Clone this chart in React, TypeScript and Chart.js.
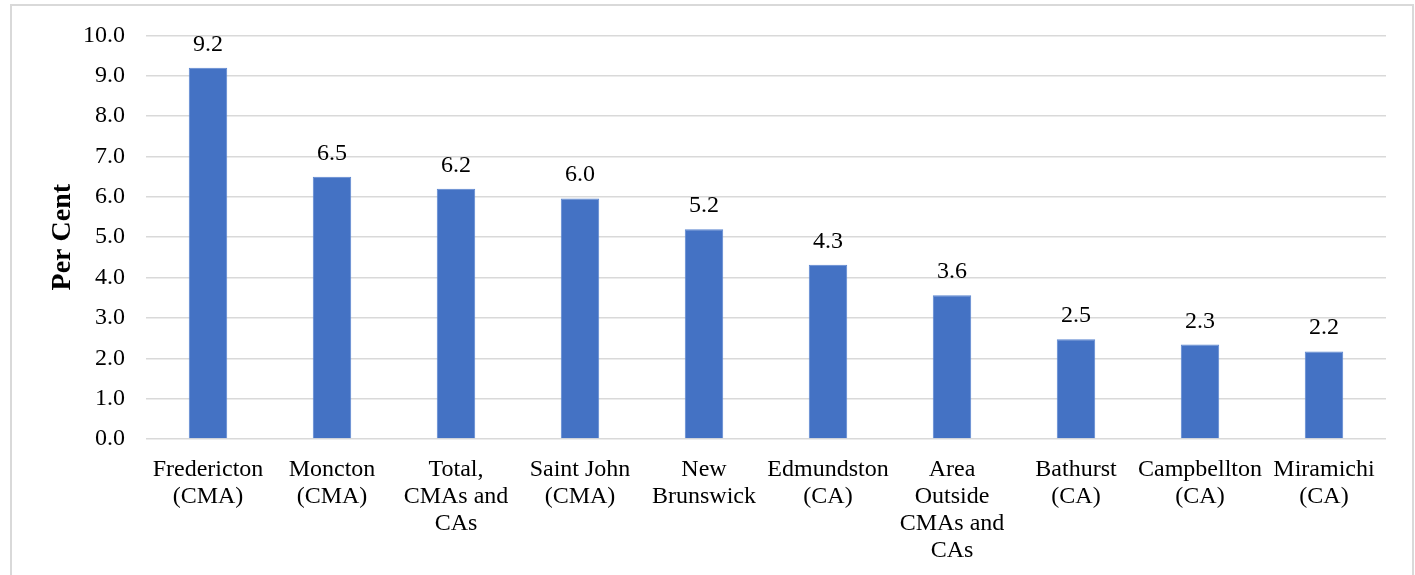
import React, { useEffect, useRef } from "react";
import { Chart, registerables } from "chart.js";

Chart.register(...registerables);

const categories: string[][] = [
  ["Fredericton", "(CMA)"],
  ["Moncton", "(CMA)"],
  ["Total,", "CMAs and", "CAs"],
  ["Saint John", "(CMA)"],
  ["New", "Brunswick"],
  ["Edmundston", "(CA)"],
  ["Area", "Outside", "CMAs and", "CAs"],
  ["Bathurst", "(CA)"],
  ["Campbellton", "(CA)"],
  ["Miramichi", "(CA)"],
];

const values: number[] = [9.2, 6.5, 6.2, 5.96, 5.2, 4.32, 3.56, 2.47, 2.34, 2.17];

const yTicks: number[] = [0, 1, 2, 3, 4, 5, 6, 7, 8, 9, 10];

const yAxisTitle = "Per Cent";

const FONT = "'Liberation Serif', 'Times New Roman', serif";

const valueLabels = {
  id: "valueLabels",
  afterDatasetsDraw(chart: any) {
    const { ctx } = chart;
    const meta = chart.getDatasetMeta(0);
    ctx.save();
    ctx.font = `24px ${FONT}`;
    ctx.fillStyle = "#000";
    ctx.textAlign = "center";
    ctx.textBaseline = "alphabetic";
    meta.data.forEach((bar: any, i: number) => {
      const v = chart.data.datasets[0].data[i] as number;
      ctx.fillText(v.toFixed(1), bar.x, bar.y - 17);
    });
    ctx.restore();
  },
};

export default function App() {
  const canvasRef = useRef<HTMLCanvasElement | null>(null);

  useEffect(() => {
    if (!canvasRef.current) return;
    const chart = new Chart(canvasRef.current, {
      type: "bar",
      data: {
        labels: categories,
        datasets: [
          {
            data: values,
            backgroundColor: "#4472C4",
            borderColor: "#5B86D0",
            borderWidth: 1,
            barPercentage: 0.62,
            categoryPercentage: 0.5,
          },
        ],
      },
      options: {
        responsive: false,
        animation: false,
        layout: { padding: { left: 0, right: 29, top: 33, bottom: 0 } },
        plugins: {
          legend: { display: false },
          tooltip: { enabled: false },
          title: { display: false },
        },
        scales: {
          x: {
            grid: { display: false },
            border: { display: false },
            ticks: {
              color: "#000",
              font: { family: FONT, size: 24, lineHeight: 1.125 },
              padding: 9,
              autoSkip: false,
              maxRotation: 0,
              minRotation: 0,
            },
            afterFit: (scale: any) => {
              scale.height = 136;
            },
          },
          y: {
            min: 0,
            max: 10,
            afterBuildTicks: (scale: any) => {
              scale.ticks = yTicks.map((v) => ({ value: v }));
            },
            grid: { color: "#d9d9d9", lineWidth: 1.5, drawTicks: false },
            border: { display: false },
            ticks: {
              color: "#000",
              font: { family: FONT, size: 24 },
              padding: 21,
              callback: (v: any) => Number(v).toFixed(1),
            },
            title: {
              display: true,
              text: yAxisTitle,
              color: "#000",
              font: { family: FONT, size: 28, weight: "bold" },
              padding: { top: 46, bottom: 0 },
            },
            afterFit: (scale: any) => {
              scale.width = 146;
            },
          },
        },
      },
      plugins: [valueLabels],
    });
    return () => chart.destroy();
  }, []);

  return (
    <div
      style={{
        position: "absolute",
        left: 0,
        top: 0,
        width: 1415,
        height: 575,
        overflow: "hidden",
        background: "#fff",
      }}
    >
      <div
        style={{
          position: "absolute",
          left: 10,
          top: 4,
          width: 1404,
          height: 640,
          border: "2px solid #d9d9d9",
          boxSizing: "border-box",
        }}
      />
      <canvas
        ref={canvasRef}
        width={1415}
        height={575}
        style={{ position: "absolute", left: 0, top: 0, width: 1415, height: 575 }}
      />
    </div>
  );
}
